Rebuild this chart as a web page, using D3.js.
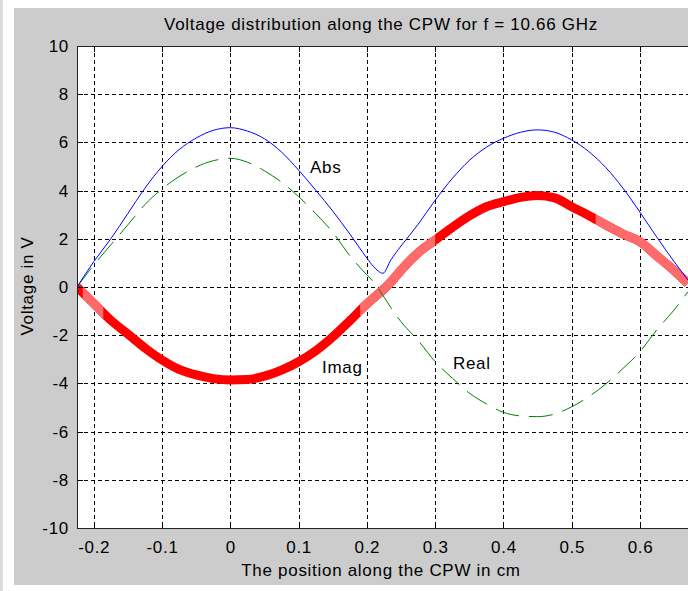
<!DOCTYPE html>
<html>
<head>
<meta charset="utf-8">
<script src="https://cdnjs.cloudflare.com/ajax/libs/d3/7.8.5/d3.min.js"></script>
<style>
  body { margin: 0; background: #fff; }
  svg text { font-family: "Liberation Sans", Arial, sans-serif; fill: #000; letter-spacing: 0.7px; }
</style>
</head>
<body>
<svg id="chart" width="688" height="591"></svg>
<script>
// values (position in cm, voltage in V)
var position = [-0.2245, -0.2, -0.175, -0.15, -0.125, -0.1, -0.075, -0.05, -0.025, 0,
  0.025, 0.05, 0.075, 0.1, 0.125, 0.15, 0.175, 0.2, 0.21, 0.2235,
  0.235, 0.25, 0.275, 0.3, 0.325, 0.35, 0.375, 0.4, 0.425, 0.45,
  0.475, 0.5, 0.525, 0.55, 0.575, 0.6, 0.625, 0.65, 0.67];

var absVals = [0, 1.05, 2.0, 3.05, 4.1, 5.0, 5.7, 6.18, 6.5, 6.61,
  6.47, 6.15, 5.6, 4.85, 4.02, 3.15, 2.2, 1.2, 0.84, 0.57,
  1.12, 1.7, 2.6, 3.6, 4.5, 5.25, 5.8, 6.17, 6.42, 6.52,
  6.42, 6.1, 5.62, 4.95, 4.1, 3.1, 2.05, 1.05, 0.29];

var realVals = [0, 0.91, 1.75, 2.58, 3.42, 4.07, 4.58, 4.98, 5.24, 5.34,
  5.18, 4.82, 4.35, 3.75, 3.05, 2.27, 1.3, 0.5, 0.2, -0.35,
  -0.85, -1.44, -2.22, -3.1, -3.78, -4.4, -4.85, -5.2, -5.35, -5.38,
  -5.27, -4.97, -4.55, -4.02, -3.38, -2.68, -1.76, -0.95, -0.2];

var imagVals = [0, -0.68, -1.38, -1.95, -2.53, -3.03, -3.42, -3.65, -3.8, -3.86,
  -3.84, -3.7, -3.45, -3.1, -2.65, -2.07, -1.4, -0.7, -0.45, -0.12,
  0.2, 0.7, 1.42, 1.95, 2.47, 2.95, 3.33, 3.54, 3.72, 3.8,
  3.7, 3.33, 2.97, 2.57, 2.2, 1.88, 1.28, 0.68, 0.15];

var xTicks = [-0.2, -0.1, 0, 0.1, 0.2, 0.3, 0.4, 0.5, 0.6];
var yTicks = [-10, -8, -6, -4, -2, 0, 2, 4, 6, 8, 10];

// stretches where the thick Imag line renders washed out
var lightRanges = [[-0.216, -0.186], [0.19, 0.3], [0.535, 0.68]];

var svg = d3.select("#chart");

// axes box in pixels (right edge falls just outside the window)
var axL = 77, axT = 46, axB = 528, axR = 691.6;

var x = d3.scaleLinear().domain([-0.2245, 0.6755]).range([axL, axR]);
var y = d3.scaleLinear().domain([-10, 10]).range([axB, axT]);

// figure background
svg.append("rect").attr("x", 0).attr("y", 0).attr("width", 3).attr("height", 591).attr("fill", "#dcdcdc");
svg.append("rect").attr("x", 14).attr("y", 8).attr("width", 674).attr("height", 577).attr("fill", "#cccccc");

// axes background
svg.append("rect")
  .attr("x", axL).attr("y", axT)
  .attr("width", axR - axL).attr("height", axB - axT)
  .attr("fill", "#fff");

var defs = svg.append("defs");

defs.append("clipPath").attr("id", "plotclip")
  .append("rect")
  .attr("x", axL).attr("y", axT)
  .attr("width", axR - axL).attr("height", axB - axT);

var lightClip = defs.append("clipPath").attr("id", "lightclip");
lightRanges.forEach(function(r) {
  lightClip.append("rect")
    .attr("x", x(r[0])).attr("y", axT)
    .attr("width", x(r[1]) - x(r[0])).attr("height", axB - axT);
});

// grid
var grid = svg.append("g").attr("stroke", "#000").attr("stroke-width", 1)
  .attr("stroke-dasharray", "4,3").attr("shape-rendering", "crispEdges");

grid.selectAll(".vg").data(xTicks).enter().append("line")
  .attr("x1", function(d) { return Math.round(x(d)) + 0.5; })
  .attr("x2", function(d) { return Math.round(x(d)) + 0.5; })
  .attr("y1", axT).attr("y2", axB);

grid.selectAll(".hg").data(yTicks.slice(1, -1)).enter().append("line")
  .attr("y1", function(d) { return Math.round(y(d)) + 0.5; })
  .attr("y2", function(d) { return Math.round(y(d)) + 0.5; })
  .attr("x1", axL).attr("x2", axR);

// curves
var plot = svg.append("g").attr("clip-path", "url(#plotclip)");

function lineFor(vals) {
  return d3.line()
    .x(function(d, i) { return x(position[i]); })
    .y(function(d) { return y(d); })
    .curve(d3.curveMonotoneX)(vals);
}

plot.append("path").attr("d", lineFor(imagVals))
  .attr("fill", "none").attr("stroke", "#ff0000").attr("stroke-width", 9);

plot.append("g").attr("clip-path", "url(#lightclip)")
  .append("path").attr("d", lineFor(imagVals))
  .attr("fill", "none").attr("stroke", "#ff6a6a").attr("stroke-width", 9);

plot.append("path").attr("d", lineFor(realVals))
  .attr("fill", "none").attr("stroke", "#008000").attr("stroke-width", 1)
  .attr("stroke-dasharray", "24,10");

plot.append("path").attr("d", lineFor(absVals))
  .attr("fill", "none").attr("stroke", "#0000ff").attr("stroke-width", 1);

// axes with inward ticks
svg.append("g").attr("transform", "translate(0," + axB + ")")
  .call(d3.axisBottom(x).tickValues(xTicks).tickSize(-6).tickPadding(13).tickFormat(function(d) { return String(d); }));

svg.append("g").attr("transform", "translate(0," + axT + ")")
  .call(d3.axisTop(x).tickValues(xTicks).tickSize(-6).tickFormat(""));

svg.append("g").attr("transform", "translate(" + axL + ",0)")
  .call(d3.axisLeft(y).tickValues(yTicks).tickSize(-6).tickPadding(8).tickFormat(function(d) { return String(d); }));

svg.selectAll(".domain").remove();
svg.selectAll(".tick line").attr("stroke", "#000").attr("shape-rendering", "crispEdges");
svg.selectAll(".tick text").attr("font-size", 17).attr("font-family", "Liberation Sans, Arial, sans-serif");

// axes box
svg.append("path")
  .attr("d", "M" + (axR + 0.5) + "," + (axT + 0.5) + "H" + (axL + 0.5) + "V" + (axB + 0.5) + "H" + (axR + 0.5))
  .attr("fill", "none").attr("stroke", "#222").attr("stroke-width", 1.5)
  .attr("shape-rendering", "crispEdges");

// titles
svg.append("text").attr("x", 381).attr("y", 30).attr("text-anchor", "middle")
  .attr("font-size", 17).text("Voltage distribution along the CPW for f = 10.66 GHz");

svg.append("text").attr("x", 381).attr("y", 576).attr("text-anchor", "middle")
  .attr("font-size", 17).text("The position along the CPW in cm");

svg.append("text").attr("transform", "translate(33,286) rotate(-90)").attr("text-anchor", "middle")
  .attr("font-size", 17).text("Voltage in V");

// curve labels, placed in data coordinates
var curveLabels = ["Abs", "Imag", "Real"];
var labelX = [0.1167, 0.1343, 0.3261];
var labelY = [4.73, -3.56, -3.4];

svg.selectAll(".clabel").data(curveLabels).enter().append("text")
  .attr("x", function(d, i) { return x(labelX[i]); })
  .attr("y", function(d, i) { return y(labelY[i]); })
  .attr("font-size", 17)
  .text(function(d) { return d; });
</script>
</body>
</html>
